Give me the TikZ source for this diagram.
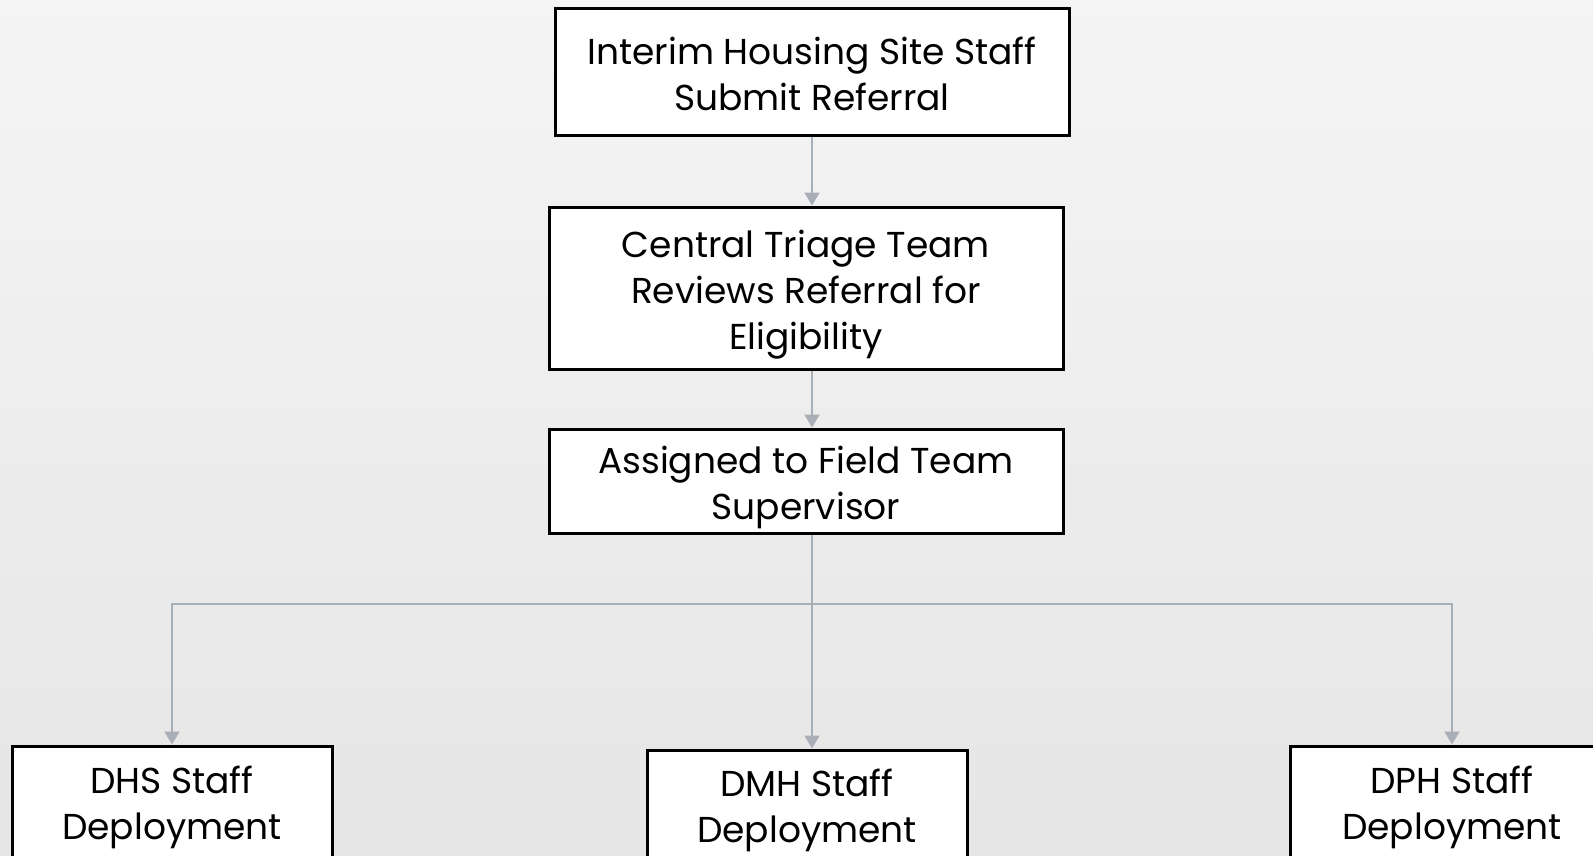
\documentclass[tikz,border=0pt]{standalone}
\usepackage{fontspec}
\setmainfont{Poppins}
\usetikzlibrary{arrows.meta}
\definecolor{conn}{HTML}{A9AFB7}
\newcommand{\boxlines}[2][12pt]{\raisebox{0pt}[\dimexpr\height+#1\relax][\depth]{\begin{tabular}{@{}c@{}}#2\end{tabular}}}
\tikzset{
  box/.style={draw=black, line width=3pt, fill=white, inner sep=0pt,
    font=\fontsize{36}{46}\selectfont, text=black},
  arr/.style={draw=conn, line width=1.8pt, -{Triangle[width=15pt,length=13pt]}},
  ln/.style={draw=conn, line width=1.8pt}
}
\begin{document}
\begin{tikzpicture}[x=1pt,y=-1pt]
\shade[top color=white!96!black, bottom color=white!90!black] (0,0) rectangle (1593,855);
\useasboundingbox (0,0) rectangle (1593,855);
\node[box, minimum width=514pt, minimum height=127pt] (b1) at (812,72) {\boxlines{Interim Housing Site Staff\\Submit Referral}};
\node[box, minimum width=514pt, minimum height=162pt] (b2) at (806,288) {\boxlines{Central Triage Team\\Reviews Referral for\\Eligibility}};
\node[box, minimum width=514pt, minimum height=104pt] (b3) at (806,481) {\boxlines{Assigned to Field Team\\Supervisor}};
\node[box, minimum width=320pt, minimum height=114pt] (dhs) at (172,803) {\boxlines[8pt]{DHS Staff\\Deployment}};
\node[box, minimum width=320pt, minimum height=112pt] (dmh) at (807,806) {\boxlines[8pt]{DMH Staff\\Deployment}};
\node[box, minimum width=324pt, minimum height=114pt] (dph) at (1452,803) {\boxlines[8pt]{DPH Staff\\Deployment}};
\coordinate (j) at (812,604);
\draw[arr] (b1.south -| j) -- (b2.north -| j);
\draw[arr] (b2.south -| j) -- (b3.north -| j);
\draw[ln] (b3.south -| j) -- (j);
\draw[arr] (j) -| (dhs.north);
\draw[arr] (j) -| (dph.north);
\draw[arr] (j) -- (dmh.north -| j);
\end{tikzpicture}
\end{document}
